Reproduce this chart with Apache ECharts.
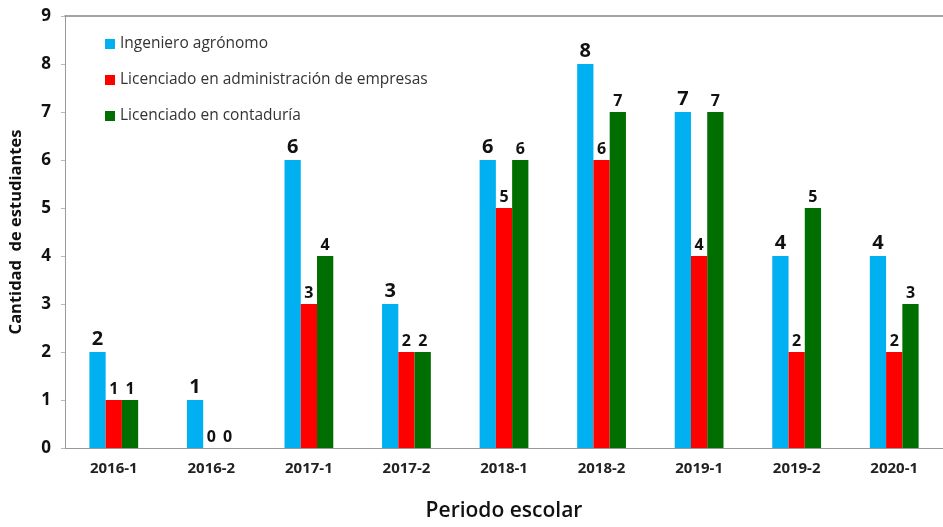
<!DOCTYPE html>
<html>
<head>
<meta charset="utf-8">
<script src="https://cdn.jsdelivr.net/npm/echarts@6/dist/echarts.min.js"></script>
<style>
  html, body { margin: 0; padding: 0; background: #fff; }
  #chart { width: 943px; height: 527px; }
</style>
</head>
<body>
<div id="chart"></div>
<script>
  const periodos = ['2016-1', '2016-2', '2017-1', '2017-2', '2018-1', '2018-2', '2019-1', '2019-2', '2020-1']
  const agronomo = [2, 1, 6, 3, 6, 8, 7, 4, 4]
  const administracion = [1, 0, 3, 2, 5, 6, 4, 2, 2]
  const contaduria = [1, 0, 4, 2, 6, 7, 7, 5, 3]

  const font = '"Open Sans", sans-serif'

  const chart = echarts.init(document.getElementById('chart'))

  const barLabel = (size) => ({
    show: true,
    position: 'top',
    distance: 3,
    color: '#111',
    fontWeight: 'bold',
    fontSize: size,
    fontFamily: font
  })

  chart.setOption({
    animation: false,
    textStyle: { fontFamily: font },
    grid: { left: 61, right: -9, top: 16, bottom: 76 },
    legend: {
      orient: 'vertical',
      left: 100,
      top: 31,
      itemWidth: 10,
      itemHeight: 10,
      itemGap: 20,
      icon: 'rect',
      textStyle: { fontSize: 15.5, lineHeight: 16, color: '#333', fontFamily: font }
    },
    xAxis: [
      {
        type: 'category',
        data: periodos,
        axisLine: { lineStyle: { color: '#999' } },
        axisTick: { show: false },
        axisLabel: { color: '#222', fontWeight: 'bold', fontSize: 15, margin: 13 },
        name: 'Periodo escolar',
        nameLocation: 'middle',
        nameGap: 53,
        nameTextStyle: { fontSize: 21, fontWeight: 600, color: '#111' }
      },
      {
        type: 'category',
        position: 'top',
        data: periodos,
        axisLine: { lineStyle: { color: '#888', width: 1.5 } },
        axisTick: { show: false },
        axisLabel: { show: false }
      }
    ],
    yAxis: {
      type: 'value',
      min: 0,
      max: 9,
      interval: 1,
      axisLine: { show: true, lineStyle: { color: '#999' } },
      axisTick: { show: true, length: 4, lineStyle: { color: '#bbb' } },
      splitLine: { show: false },
      axisLabel: { color: '#111', fontWeight: 'bold', fontSize: 17, margin: 14 },
      name: 'Cantidad  de estudiantes',
      nameLocation: 'middle',
      nameGap: 40,
      nameTextStyle: { fontSize: 16.5, fontWeight: 'bold', color: '#111' }
    },
    series: [
      {
        name: 'Ingeniero agrónomo',
        type: 'bar',
        data: agronomo,
        itemStyle: { color: '#00B0F0' },
        barGap: '0%',
        barCategoryGap: '50%',
        label: barLabel(20)
      },
      {
        name: 'Licenciado en administración de empresas',
        type: 'bar',
        data: administracion,
        itemStyle: { color: '#FF0000' },
        label: barLabel(16)
      },
      {
        name: 'Licenciado en contaduría',
        type: 'bar',
        data: contaduria,
        itemStyle: { color: '#006E00' },
        label: barLabel(16)
      }
    ]
  })
</script>
</body>
</html>
